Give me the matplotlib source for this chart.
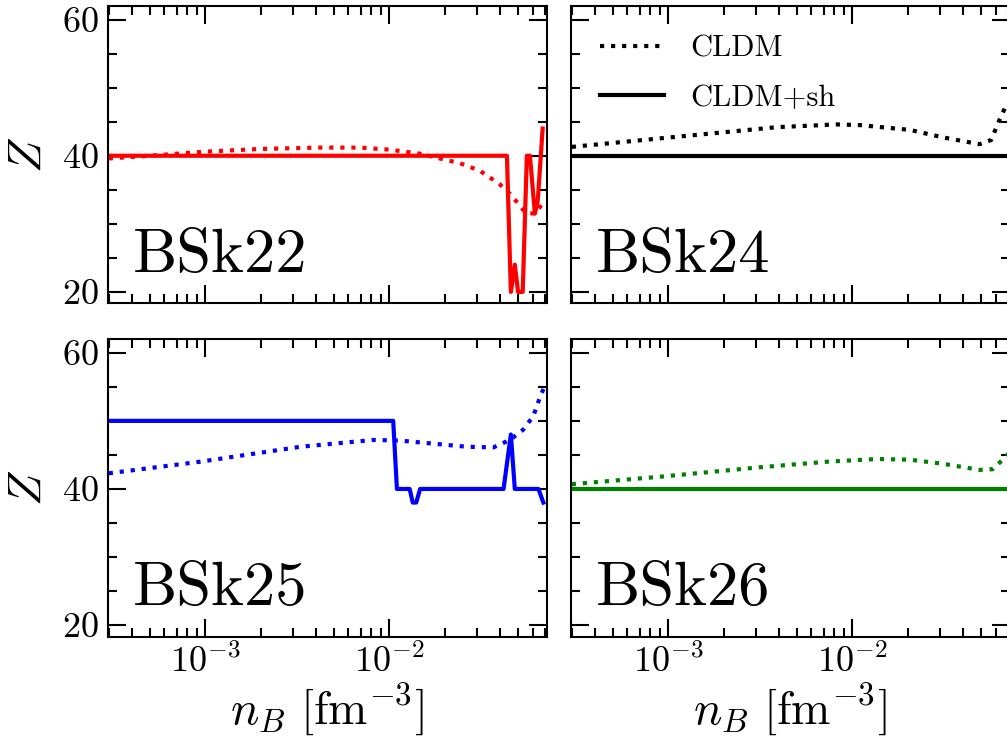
import numpy as np
import matplotlib
matplotlib.use("Agg")
import matplotlib.pyplot as plt
from matplotlib.ticker import MultipleLocator, LogLocator, NullFormatter

plt.rcParams['font.family'] = 'serif'
plt.rcParams['font.serif'] = ['cmr10']
plt.rcParams['mathtext.fontset'] = 'cm'
plt.rcParams['axes.formatter.use_mathtext'] = True
plt.rcParams['axes.unicode_minus'] = False

# BSk22 (red)
nb22_cldm = [3.0e-4, 5.0e-4, 1.0e-3, 2.0e-3, 4.2e-3, 6.9e-3, 1.0e-2, 0.0147, 0.0188,
             0.0242, 0.031, 0.0398, 0.0452, 0.050, 0.055, 0.0617, 0.068]
z22_cldm = [39.6, 40.0, 40.6, 41.0, 41.2, 41.2, 40.9, 40.3, 39.6,
            38.9, 37.8, 35.8, 34.4, 33.0, 31.6, 31.5, 33.0]
nb22_sh = [3.0e-4, 0.0435, 0.0457, 0.048, 0.050, 0.053, 0.0558, 0.058, 0.0617, 0.064, 0.068]
z22_sh = [40, 40, 20, 24, 20, 20, 40, 40, 31.5, 33.5, 44]

# BSk24 (black)
nb24_cldm = [3.0e-4, 1.03e-3, 3.9e-3, 8.2e-3, 0.011, 0.0205, 0.031, 0.049, 0.0566, 0.0628, 0.0686]
z24_cldm = [41.3, 42.7, 44.2, 44.6, 44.5, 43.8, 42.7, 41.7, 42.3, 45.2, 47.5]
nb24_sh = [3.0e-4, 0.072]
z24_sh = [40, 40]

# BSk25 (blue)
nb25_cldm = [3.0e-4, 9.4e-4, 3.3e-3, 8.2e-3, 0.0115, 0.0263, 0.0367, 0.0452, 0.0533, 0.0605, 0.066, 0.0698]
z25_cldm = [42.3, 44.0, 46.2, 47.2, 47.1, 46.2, 46.1, 47.2, 48.7, 50.7, 53.6, 55.1]
nb25_sh = [3.0e-4, 0.0105, 0.011, 0.0129, 0.0134, 0.014, 0.0147, 0.0417, 0.0457, 0.048, 0.0645, 0.0686]
z25_sh = [50, 50, 40, 40, 38, 38, 40, 40, 48, 40, 40, 38]

# BSk26 (green)
nb26_cldm = [3.0e-4, 9.1e-4, 3.2e-3, 7.3e-3, 0.0136, 0.0205, 0.031, 0.049, 0.0578, 0.0655, 0.072]
z26_cldm = [40.7, 41.8, 43.2, 44.0, 44.4, 44.3, 43.7, 42.8, 42.9, 44.3, 45.5]
nb26_sh = [3.0e-4, 0.072]
z26_sh = [40, 40]

models = ['BSk22', 'BSk24', 'BSk25', 'BSk26']
colors = ['red', 'black', 'blue', 'green']
cldm = [(nb22_cldm, z22_cldm), (nb24_cldm, z24_cldm), (nb25_cldm, z25_cldm), (nb26_cldm, z26_cldm)]
cldm_sh = [(nb22_sh, z22_sh), (nb24_sh, z24_sh), (nb25_sh, z25_sh), (nb26_sh, z26_sh)]

fig, axes = plt.subplots(2, 2, figsize=(10.07, 7.38), dpi=100, sharex=True, sharey=True)
fig.subplots_adjust(left=0.1072, right=1.0027, bottom=0.1373, top=0.9919,
                    wspace=0.0554, hspace=0.12)

for i, ax in enumerate(axes.flat):
    ax.plot(cldm[i][0], cldm[i][1], ':', color=colors[i], lw=3, label='CLDM')
    ax.plot(cldm_sh[i][0], cldm_sh[i][1], '-', color=colors[i], lw=3, label='CLDM+sh')
    ax.set_xscale('log')
    ax.set_xlim(2.97e-4, 0.0715)
    ax.set_ylim(18.3, 62)
    ax.yaxis.set_major_locator(MultipleLocator(20))
    ax.yaxis.set_minor_locator(MultipleLocator(5))
    ax.xaxis.set_minor_locator(LogLocator(base=10, subs=np.arange(2, 10)))
    ax.xaxis.set_minor_formatter(NullFormatter())
    ax.tick_params(which='both', direction='in', top=True, right=True, width=1.5,
                   labelsize=26)
    ax.tick_params(which='major', length=13)
    ax.tick_params(which='minor', length=6.5)
    ax.tick_params(axis='y', pad=7)
    ax.tick_params(axis='x', pad=5)
    for sp in ax.spines.values():
        sp.set_linewidth(1.5)
    ax.text(0.057, 0.106, models[i], transform=ax.transAxes, fontsize=45, va='baseline')

for ax in axes[:, 0]:
    ax.set_ylabel(r'$Z$', fontsize=34, labelpad=8)
for ax in axes[1, :]:
    ax.set_xlabel(r'$n_B\ [\mathrm{fm}^{-3}]$', fontsize=34, labelpad=2)

axes[0, 1].legend(loc='upper left', bbox_to_anchor=(0.018, 0.973), frameon=False,
                  fontsize=22, handlelength=2.1, handletextpad=0.85,
                  labelspacing=0.7, borderaxespad=0.3)

fig.savefig('out.png', dpi=100)
